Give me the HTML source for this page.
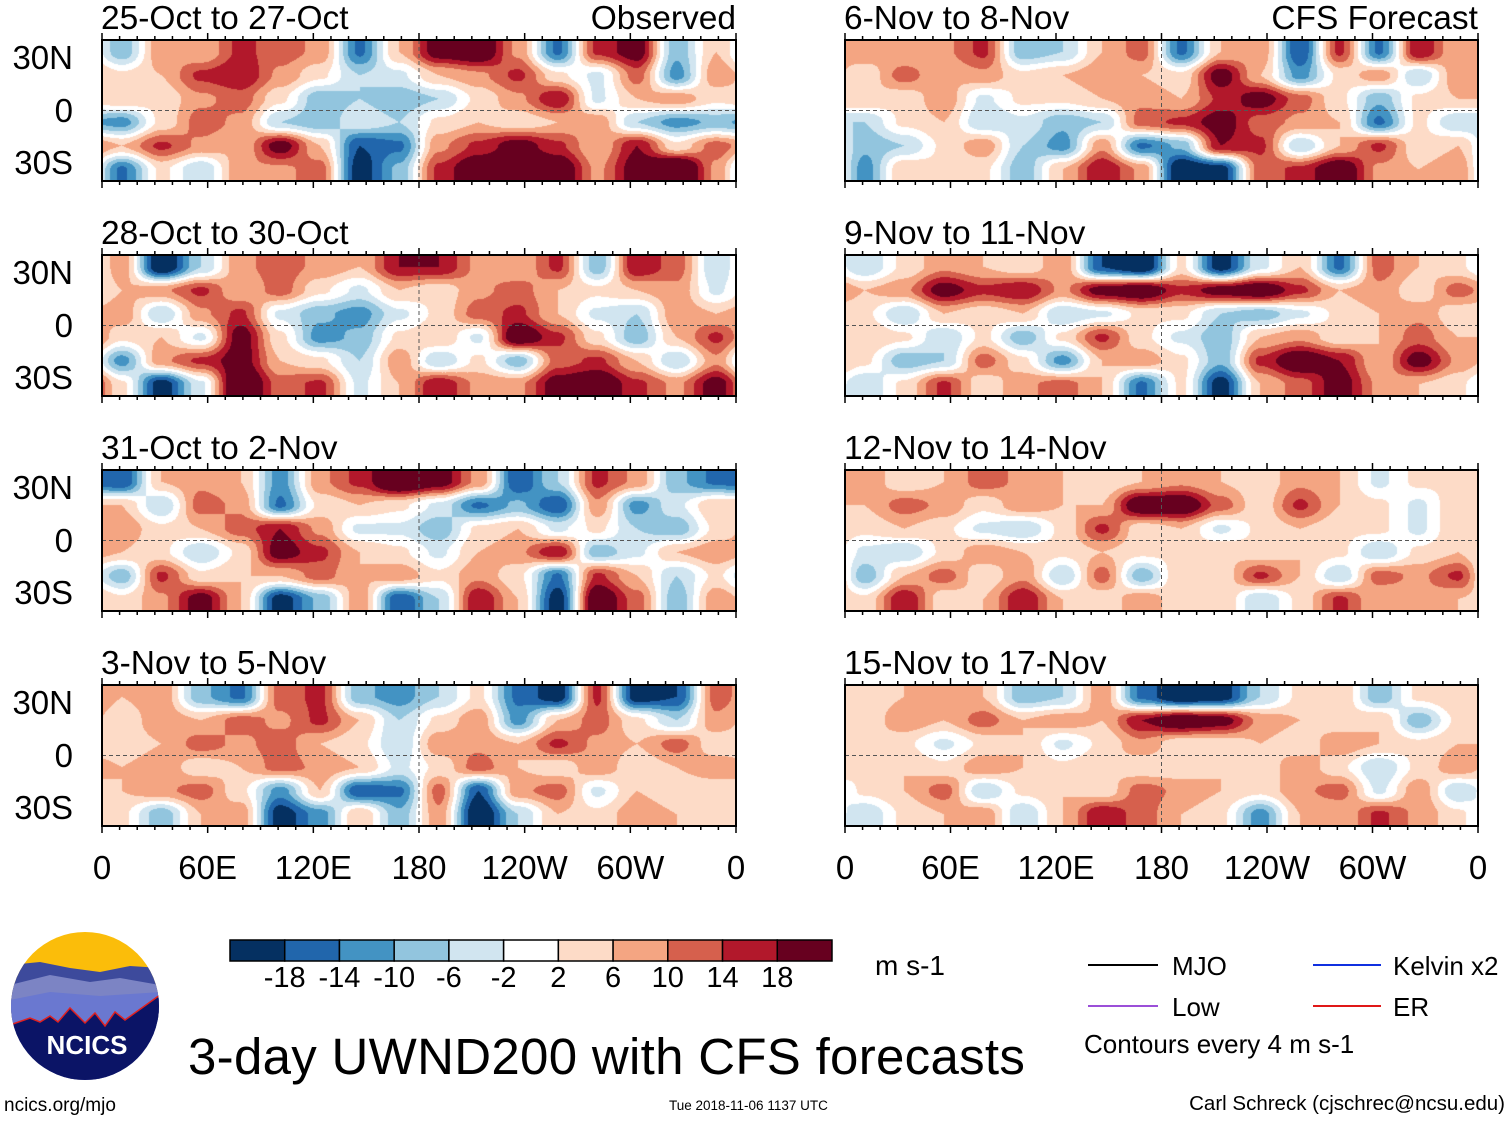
<!DOCTYPE html>
<html><head><meta charset="utf-8">
<style>
body{margin:0;background:#fff;width:1510px;height:1121px;position:relative;overflow:hidden;font-family:"Liberation Sans",sans-serif;color:#000}
.t{position:absolute;white-space:nowrap;line-height:1}
canvas{position:absolute}
</style></head><body>
<svg id="frame" width="1510" height="1121" style="position:absolute;left:0;top:0;z-index:2"></svg>
<div id="labels"></div>

<svg width="1510" height="1121" style="position:absolute;left:0;top:0;z-index:3">
  <defs><clipPath id="lc"><circle cx="85" cy="1006" r="74"/></clipPath></defs>
  <g clip-path="url(#lc)">
    <rect x="10" y="930" width="150" height="160" fill="#fbbd0a"/>
    <path d="M10 965 L40 962 L70 968 L100 972 L130 966 L160 968 L160 1100 L10 1100Z" fill="#3d4a9c"/>
    <path d="M10 985 L50 975 L90 982 L120 978 L160 985 L160 1100 L10 1100Z" fill="#7c84c4"/>
    <path d="M10 1000 L50 992 L100 996 L160 992 L160 1100 L10 1100Z" fill="#6a78d0"/>
    <path d="M10 1025 L30 1018 L40 1022 L50 1016 L58 1022 L70 1008 L85 1023 L95 1013 L105 1026 L115 1012 L125 1020 L160 995 L160 1100 L10 1100Z" fill="#0b1466" stroke="#e02020" stroke-width="1.5"/>
    <text x="87" y="1054" text-anchor="middle" font-family="Liberation Sans" font-weight="bold" font-size="26" fill="#fff">NCICS</text>
  </g>
  <g>
    <line x1="1088" y1="965" x2="1158" y2="965" stroke="#000" stroke-width="2"/>
    <line x1="1088" y1="1006" x2="1158" y2="1006" stroke="#9b4fd8" stroke-width="2"/>
    <line x1="1313" y1="965" x2="1381" y2="965" stroke="#1030e0" stroke-width="2"/>
    <line x1="1313" y1="1006" x2="1381" y2="1006" stroke="#e01818" stroke-width="2"/>
  </g>
</svg>
<div class="t" style="left:1172px;top:953px;font-size:26px">MJO</div>
<div class="t" style="left:1172px;top:994px;font-size:26px">Low</div>
<div class="t" style="left:1393px;top:953px;font-size:26px">Kelvin x2</div>
<div class="t" style="left:1393px;top:994px;font-size:26px">ER</div>
<div class="t" style="left:1084px;top:1031px;font-size:26px">Contours every 4 m s-1</div>
<div class="t" style="left:875px;top:952px;font-size:28px">m s-1</div>
<div class="t" style="left:188px;top:1031px;font-size:51px;letter-spacing:0.3px">3-day UWND200 with CFS forecasts</div>
<div class="t" style="left:4px;top:1096px;font-size:19px">ncics.org/mjo</div>
<div class="t" style="left:669px;top:1099px;font-size:13.5px">Tue 2018-11-06 1137 UTC</div>
<div class="t" style="right:5px;top:1094px;font-size:20.5px">Carl Schreck (cjschrec@ncsu.edu)</div>

<script>
const colors=["#053061","#2166ac","#4393c3","#92c5de","#d1e5f0","#ffffff","#fddbc7","#f4a582","#d6604d","#b2182b","#67001f"];
const levels=[-18,-14,-10,-6,-2,2,6,10,14,18];
const titles=["25-Oct to 27-Oct","28-Oct to 30-Oct","31-Oct to 2-Nov","3-Nov to 5-Nov","6-Nov to 8-Nov","9-Nov to 11-Nov","12-Nov to 14-Nov","15-Nov to 17-Nov"];
const xTicks=["0","60E","120E","180","120W","60W","0"];
const yTicks=["30N","0","30S"];
const pA=[[-6,6,4,10,8,6,-10,4,14,16,6,-10,10,14,-6,4],[2,4,10,12,6,2,-4,-2,4,6,10,2,-2,8,-8,6],[4,2,6,8,2,-6,-4,-6,-4,2,6,12,-2,4,6,2],[-8,2,8,6,-4,-6,-2,-4,2,4,2,4,6,-4,-8,-6],[4,10,6,4,14,4,-12,-10,6,10,14,10,4,12,2,8],[-10,2,-4,6,6,8,-14,-6,10,16,18,16,6,14,20,6]];
const pB=[[6,-16,-4,6,8,6,4,12,12,6,4,10,-6,12,8,-4],[4,6,10,4,8,2,-2,4,2,6,8,4,2,4,6,-2],[6,-4,6,10,-2,-6,-8,-2,2,8,10,4,-2,-4,6,4],[2,4,-2,14,2,-8,-6,2,4,-2,16,10,2,-6,4,10],[-8,6,10,14,4,2,-4,6,-4,2,-6,8,10,4,-4,6],[2,-14,-2,18,8,10,-2,4,12,6,6,14,16,10,6,14]];
const pC=[[-12,4,6,4,-8,6,10,18,14,6,-12,-4,10,6,-6,-10],[4,-4,8,6,-10,2,4,2,-2,-10,-6,-12,6,-8,-2,4],[6,2,4,8,12,6,-2,-2,-6,2,4,-2,2,-4,-6,2],[4,2,-4,2,14,10,4,2,-2,4,6,12,-6,-2,4,6],[-6,10,2,4,4,8,4,6,2,6,2,-10,10,4,-4,2],[2,6,14,4,-14,-6,6,-12,-4,12,4,-14,16,8,-6,6]];
const pD=[[4,6,-6,-10,8,10,-6,-8,-4,2,-10,-14,10,-14,-12,8],[2,6,4,8,6,10,4,-4,2,6,-8,4,8,2,-4,6],[2,4,8,6,8,4,2,-4,6,6,4,10,6,4,8,2],[4,6,2,4,8,6,4,-2,2,8,4,2,6,2,4,6],[4,6,8,2,-8,4,-12,-10,8,-12,6,8,-2,4,2,2],[2,-6,4,6,-14,-8,4,-6,6,-16,-4,4,2,6,4,2]];
const pE=[[6,4,6,10,-6,-4,4,8,-10,4,6,-12,10,-10,12,4],[2,8,4,6,2,4,6,4,2,14,4,-8,2,6,-4,6],[4,2,6,-2,2,2,4,6,4,10,14,8,2,-6,2,4],[-4,2,4,-4,-2,-6,-4,8,10,14,8,6,4,-10,2,-4],[-6,-4,2,6,-4,-8,6,-10,-6,12,10,-4,4,10,2,4],[-8,4,2,2,-6,4,12,6,-16,-14,8,10,16,6,4,6]];
const pF=[[-4,2,6,4,2,6,-12,-16,2,-14,-2,4,-10,8,4,2],[4,6,14,10,12,6,14,16,10,14,16,10,4,6,2,8],[2,-4,4,2,4,-4,-2,2,2,-4,-6,-2,2,4,6,2],[4,2,-4,2,-6,2,10,2,-2,-6,4,6,2,4,8,4],[2,-6,-4,8,2,-8,4,6,2,-6,10,16,12,4,14,6],[-4,2,10,2,6,8,4,-10,2,-14,4,8,14,6,4,2]];
const pG=[[6,2,4,8,6,4,2,4,6,4,2,6,4,-2,2,2],[4,8,6,2,6,4,4,16,16,8,2,10,4,2,-2,4],[2,4,2,-2,-4,2,10,2,4,-2,2,4,2,2,-2,4],[-2,-4,2,6,4,2,4,2,2,4,2,4,2,-4,2,4],[-6,4,8,2,6,-4,8,-6,4,2,10,4,-4,8,6,10],[2,12,2,4,12,4,2,6,2,4,-4,2,10,4,6,4]];
const pH=[[2,4,6,4,-6,-4,6,-10,-16,-14,-4,2,4,-6,2,4],[2,6,4,8,4,6,4,12,16,14,6,4,2,4,-6,2],[4,2,-2,2,4,-2,2,6,2,2,4,2,6,4,2,4],[2,4,2,6,4,2,4,2,2,4,2,6,2,-4,2,6],[2,4,8,-4,2,4,2,8,6,4,2,6,8,-2,6,-4],[-4,2,4,6,-4,4,12,8,4,2,-8,4,4,10,6,2]];
const panelsData=[pA,pB,pC,pD,pE,pF,pG,pH];
const displayGain=1.5;

const tops=[40,255,470,685];
const lefts=[102,845], widths=[634,633], H=141;
function xScale(lon,x0,w){return x0+lon/360*w;}
function yScale(lat,y0){return y0+H/2-lat/80*H;}
function hex(c){return [parseInt(c.substr(1,2),16),parseInt(c.substr(3,2),16),parseInt(c.substr(5,2),16)];}
const rgb=colors.map(hex);
function colorIdx(v){let i=0;while(i<levels.length&&v>=levels[i])i++;return i;}
function sm(t){return t*t*(3-2*t);}

const svg=document.getElementById('frame');
const NS="http://www.w3.org/2000/svg";
const lab=document.getElementById('labels');
function addText(txt,style,name){const d=document.createElement('div');d.className='t';d.textContent=txt;d.style.cssText=style;


lab.appendChild(d);}

panelsData.forEach((data,p)=>{
  const col=p<4?0:1,row=p%4;
  const x0=lefts[col],w=widths[col],y0=tops[row];
  const cv=document.createElement('canvas');cv.width=w;cv.height=H;
  cv.style.left=x0+'px';cv.style.top=y0+'px';
  
  
  document.body.appendChild(cv);
  const ctx=cv.getContext('2d');const img=ctx.createImageData(w,H);
  const nc=data[0].length,nr=data.length;
  for(let py=0;py<H;py++){
    let fy=(py+0.5)/H*nr-0.5;fy=Math.max(0,Math.min(nr-1,fy));
    const r0=Math.floor(fy),r1=Math.min(nr-1,r0+1),ty=sm(fy-r0);
    for(let px=0;px<w;px++){
      let fx=(px+0.5)/w*nc-0.5;if(fx<0)fx+=nc;
      const c0=Math.floor(fx)%nc,c1=(c0+1)%nc,tx=sm(fx-Math.floor(fx));
      const a=data[r0][c0]*(1-tx)+data[r0][c1]*tx;
      const b=data[r1][c0]*(1-tx)+data[r1][c1]*tx;
      const v=(a*(1-ty)+b*ty)*displayGain;
      const c=rgb[colorIdx(v)];const k=(py*w+px)*4;
      img.data[k]=c[0];img.data[k+1]=c[1];img.data[k+2]=c[2];img.data[k+3]=255;
    }
  }
  ctx.putImageData(img,0,0);
  const g=document.createElementNS(NS,'g');
  
  
  const eq=yScale(0,y0),m180=xScale(180,x0,w);
  g.innerHTML=`<line x1="${x0}" y1="${eq}" x2="${x0+w}" y2="${eq}" stroke="#555" stroke-dasharray="4,3" stroke-width="1"/>
  <line x1="${m180}" y1="${y0}" x2="${m180}" y2="${y0+H}" stroke="#555" stroke-dasharray="4,3" stroke-width="1"/>
  <rect x="${x0}" y="${y0}" width="${w}" height="${H}" fill="none" stroke="#000" stroke-width="2"/>`;
  for(let lon=0;lon<=360;lon+=10){const x=xScale(lon,x0,w);const L=lon%60==0?7:4;
    g.innerHTML+=`<line x1="${x}" y1="${y0}" x2="${x}" y2="${y0-L}" stroke="#000" stroke-width="1.5"/><line x1="${x}" y1="${y0+H}" x2="${x}" y2="${y0+H+L}" stroke="#000" stroke-width="1.5"/>`;}
  svg.appendChild(g);
  addText(titles[p],`left:${x0-1}px;top:${y0-38}px;font-size:33.5px`,'panel-title-'+(p+1));
  if(col==0){[30,0,-30].forEach((lat,i)=>addText(yTicks[i],`right:${1510-73}px;top:${yScale(lat,y0)-17}px;font-size:33px`,'y-tick-'+yTicks[i]));}
});
addText("Observed","right:774px;top:2px;font-size:33.5px","observed-label");
addText("CFS Forecast","right:32px;top:2px;font-size:33.5px","cfs-forecast-label");
[0,1].forEach(col=>{xTicks.forEach((t,i)=>{const x=xScale(i*60,lefts[col],widths[col]);
  const d=document.createElement('div');d.className='t';d.textContent=t;d.style.cssText=`left:${x-100}px;width:200px;text-align:center;top:851px;font-size:33px`;
  
  
  lab.appendChild(d);});});
const cb=document.createElementNS(NS,'g');


const cbx=230,cbw=602/11;
colors.forEach((c,i)=>{cb.innerHTML+=`<rect x="${cbx+i*cbw}" y="940" width="${cbw}" height="21" fill="${c}" stroke="#000" stroke-width="1.5"/>`;});
svg.appendChild(cb);
levels.forEach((l,i)=>{const x=cbx+(i+1)*cbw;const d=document.createElement('div');d.className='t';d.textContent=l;
  d.style.cssText=`left:${x-40}px;width:80px;text-align:center;top:964px;font-size:29px`;
  
  
  lab.appendChild(d);});
</script>
</body></html>
